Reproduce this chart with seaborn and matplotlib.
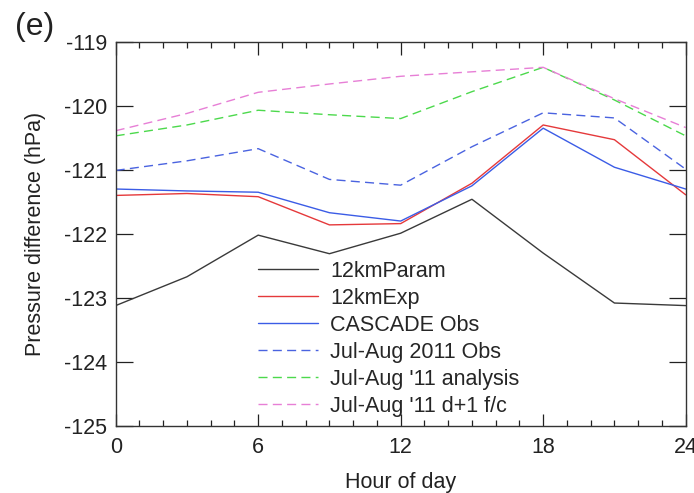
import matplotlib
matplotlib.use("Agg")
import matplotlib.pyplot as plt
import seaborn as sns
import pandas as pd
from matplotlib.ticker import MultipleLocator

hours = [0, 3, 6, 9, 12, 15, 18, 21, 24]
param12 = [-123.12, -122.67, -122.02, -122.31, -121.99, -121.46, -122.30, -123.08, -123.12]
exp12 = [-121.40, -121.37, -121.42, -121.86, -121.84, -121.21, -120.30, -120.53, -121.39]
cascade_obs = [-121.30, -121.33, -121.35, -121.67, -121.80, -121.25, -120.35, -120.96, -121.30]
obs2011 = [-121.01, -120.86, -120.67, -121.15, -121.24, -120.64, -120.11, -120.19, -120.99]
analysis11 = [-120.47, -120.30, -120.07, -120.14, -120.20, -119.78, -119.40, -119.91, -120.47]
fc11 = [-120.39, -120.12, -119.79, -119.66, -119.54, -119.47, -119.40, -119.89, -120.34]

labels = ["12kmParam", "12kmExp", "CASCADE Obs", "Jul-Aug 2011 Obs",
          "Jul-Aug '11 analysis", "Jul-Aug '11 d+1 f/c"]
series = [param12, exp12, cascade_obs, obs2011, analysis11, fc11]
colors = ["#3a3a3a", "#e5393b", "#3b5ce6", "#4a63e0", "#4cd94c", "#e77fd6"]
styles = ["-", "-", "-", "--", "--", "--"]

sns.set_theme(style="ticks")
plt.rcParams["font.family"] = ["Liberation Sans", "DejaVu Sans"]
plt.rcParams["axes.unicode_minus"] = False

FS = 15.5

fig = plt.figure(figsize=(6.94, 4.93), dpi=100)
ax = fig.add_axes([0.1667, 0.1359, 0.8213, 0.7795])

for lab, vals, c, ls in zip(labels, series, colors, styles):
    df = pd.DataFrame({"hour": hours, "value": vals})
    sns.lineplot(data=df, x="hour", y="value", ax=ax, color=c, linewidth=1.0, label=lab)
    ln = ax.lines[-1]
    if ls == "--":
        ln.set_dashes([6.5, 3.8])

ax.set_xlim(0, 24)
ax.set_ylim(-125, -119)
ax.xaxis.set_major_locator(MultipleLocator(6))
ax.xaxis.set_minor_locator(MultipleLocator(1))
ax.yaxis.set_major_locator(MultipleLocator(1))
ax.tick_params(axis="both", which="both", direction="in", top=True, right=True,
               labelsize=FS, colors="#222222")
ax.tick_params(axis="x", which="major", length=9, width=0.9, pad=8)
ax.tick_params(axis="x", which="minor", length=4.5, width=0.9)
ax.tick_params(axis="y", which="major", length=12, width=0.9, pad=6)
for s in ax.spines.values():
    s.set_linewidth(1.0)
    s.set_color("#333333")

ax.set_xlabel("Hour of day", fontsize=FS, labelpad=10, color="#222222")
ax.set_ylabel("Pressure difference (hPa)", fontsize=FS, labelpad=13, color="#222222")

leg = ax.legend(loc="upper left", bbox_to_anchor=(0.25, 0.43), frameon=False,
                fontsize=FS, handlelength=2.8, handletextpad=0.55,
                labelspacing=0.28, borderaxespad=0.0, borderpad=0.0)
for h in leg.get_lines():
    h.set_linewidth(1.0)

fig.text(0.022, 0.93, "(e)", fontsize=23, color="#222222")

fig.savefig("out.png", dpi=100)
